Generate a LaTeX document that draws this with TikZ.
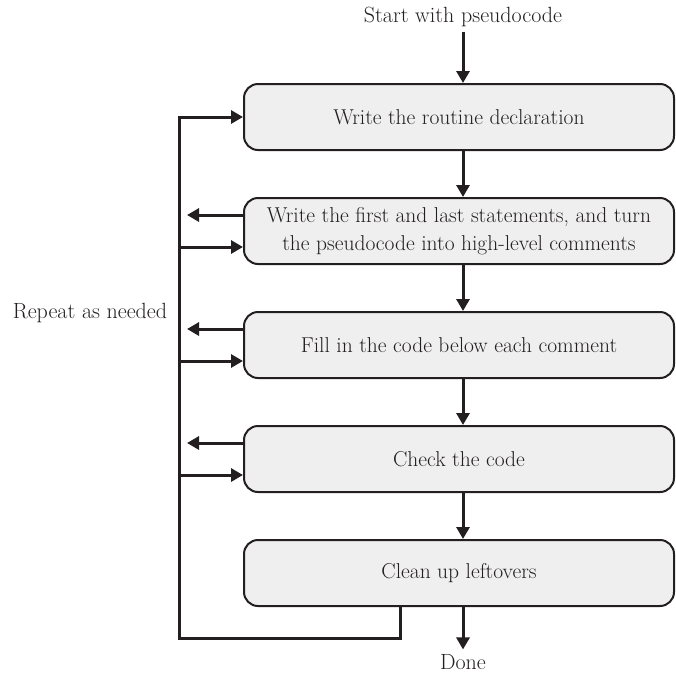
\documentclass[tikz,border=0pt]{standalone}
\usetikzlibrary{arrows.meta}
\definecolor{ink}{HTML}{231F20}
\definecolor{boxgray}{HTML}{EFEFEF}
\begin{document}
\begin{tikzpicture}[x=1pt,y=-1pt]
    \tikzstyle{stepbox}=[rectangle,rounded corners=14pt,draw=ink,line width=2pt,fill=boxgray,
                         minimum width=430pt,minimum height=66pt,align=center,
                         font=\fontsize{21.5}{28}\selectfont,text=ink]
    \tikzstyle{flow}=[draw=ink,line width=3pt,-{Triangle[length=12pt,width=13pt]}]
    \tikzstyle{caption}=[font=\fontsize{22}{26}\selectfont,text=ink]
    \useasboundingbox (0,0) rectangle (676,675);

    \node[caption,anchor=base] (start) at (463,22) {Start with pseudocode};
    \node[stepbox] (decl)   at (459,117) {Write the routine declaration};
    \node[stepbox] (first)  at (459,231) {Write the first and last statements, and turn\\the pseudocode into high-level comments};
    \node[stepbox] (fill)   at (459,345) {Fill in the code below each comment};
    \node[stepbox] (check)  at (459,459) {Check the code};
    \node[stepbox] (clean)  at (459,573) {Clean up leftovers};
    \node[caption,anchor=base] (done) at (463,669) {Done};
    \node[caption] (repeat) at (90,313)  {Repeat as needed};
    \coordinate (rail) at (179,638);

    \draw[flow] ([yshift=-2pt]start.south) -- (start.south |- decl.north);
    \foreach \a/\b in {decl/first,first/fill,fill/check,check/clean}
        \draw[flow] ([xshift=4pt]\a.south) -- ([xshift=4pt]\b.north);
    \draw[flow] ([xshift=4pt]clean.south) -- ([xshift=4pt,yshift=1pt]clean.south |- done.north);

    \draw[flow] ([xshift=-59pt]clean.south) |- (rail) |- (decl.west);
    \foreach \b in {first,fill,check} {
        \draw[flow] ([yshift=16pt]\b.west) -- ([xshift=8pt,yshift=16pt]rail |- \b.west);
        \draw[flow] ([yshift=-16pt]rail |- \b.west) -- ([yshift=-16pt]\b.west);
    }

\end{tikzpicture}
\end{document}
